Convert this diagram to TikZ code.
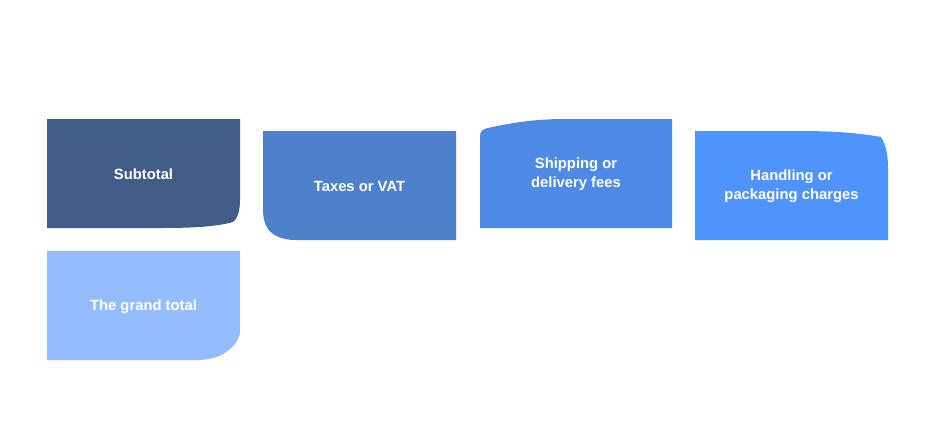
\documentclass[tikz,border=0pt]{standalone}
\usepackage{fontspec}
\setmainfont{Liberation Sans}
\usepackage{tikz}
\usetikzlibrary{calc}
\definecolor{subcol}{HTML}{415C87}
\definecolor{taxcol}{HTML}{4F80CB}
\definecolor{shipcol}{HTML}{4D89E5}
\definecolor{handcol}{HTML}{4F94FE}
\definecolor{grandcol}{HTML}{94BDFF}

\begin{document}
\begin{tikzpicture}[line cap=round,line join=round,x=1pt,y=-1pt,
  lbl/.style={text=white,font=\fontsize{14.8}{19}\selectfont\bfseries,align=center,inner sep=0pt}]
\useasboundingbox (0,0) rectangle (936,432);
\fill [color=subcol] (47,119)-- (240,119)-- (240,200) .. controls (240,212) and (237,219) .. (233,222) .. controls (215,227) and (190,228) .. (160,228)-- (47,228)-- cycle;
\fill [color=taxcol] (263,131)-- (456,131)-- (456,240)-- (296,240) .. controls (283,240) and (273,236) .. (268,229) .. controls (264,223) and (263,217) .. (263,208)-- cycle;
\fill [color=shipcol] (480,228)-- (480,136) .. controls (480,131) and (483,129) .. (488,128) .. controls (510,123) and (535,119) .. (565,119)-- (672,119)-- (672,228)-- cycle;
\fill [color=handcol] (695,131)-- (800,131) .. controls (840,131) and (865,134) .. (881,137) .. controls (886,145) and (888,155) .. (888,168)-- (888,240)-- (695,240)-- cycle;
\fill [color=grandcol] (47,251)-- (240,251)-- (240,330) .. controls (240,338) and (236,344) .. (230,349) .. controls (222,356) and (214,359) .. (200,360)-- (47,360)-- cycle;
\node [lbl] (subtotal) at (143.5,174.5) {Subtotal};
\node [lbl] (taxes) at (359.5,186.5) {Taxes or VAT};
\node [lbl] (shipping) at (576,174.5) {Shipping or\\delivery fees};
\node [lbl] (handling) at (791.5,186.5) {Handling or\\packaging charges};
\node [lbl] (grand) at (143.5,306.5) {The grand total};
\end{tikzpicture}
\end{document}
